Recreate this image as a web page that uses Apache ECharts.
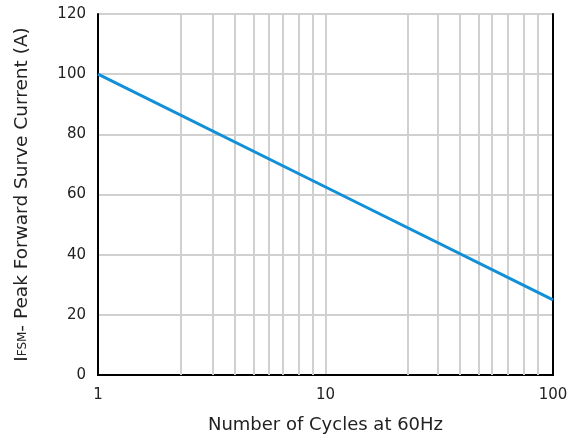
<!DOCTYPE html>
<html>
<head>
<meta charset="utf-8">
<script src="https://cdn.jsdelivr.net/npm/echarts@6/dist/echarts.min.js"></script>
<style>
  html, body { margin: 0; padding: 0; background: #fff; }
  #chart { width: 571px; height: 439px; }
</style>
</head>
<body>
<div id="chart"></div>
<script>
// curve points (cycles, amps)
const cycles = [1, 10, 100];
const current = [100, 62.5, 25];
// the minor vertical grid lines, as drawn in the original
const minorGrid = [2.3, 3.2, 4.0, 4.85, 5.65, 6.5, 7.6, 8.8, 23, 31, 39, 47, 54, 63, 74, 86];
const yTicks = [0, 20, 40, 60, 80, 100, 120];

const chart = echarts.init(document.getElementById('chart'));
const font = '"DejaVu Sans", sans-serif';
const gridGray = '#d0d0d0';

// plain frame axes for the top and right edges
const frameX = {
  type: 'log', logBase: 10, min: 1, max: 100, position: 'top',
  axisLine: { show: true, lineStyle: { color: '#000', width: 2 } },
  axisTick: { show: false }, axisLabel: { show: false }, splitLine: { show: false }
};
const frameY = {
  type: 'value', min: 0, max: 120, position: 'right',
  axisLine: { show: true, lineStyle: { color: '#000', width: 2 } },
  axisTick: { show: false }, axisLabel: { show: false }, splitLine: { show: false }
};

const option = {
  animation: false,
  textStyle: { fontFamily: font },
  grid: { left: 98, right: 18, top: 14, bottom: 63 },
  xAxis: [{
    type: 'log',
    logBase: 10,
    min: 1,
    max: 100,
    name: 'Number of Cycles at 60Hz',
    nameLocation: 'middle',
    nameGap: 41,
    nameTextStyle: { fontSize: 18, color: '#222', fontFamily: font },
    axisLine: { show: true, lineStyle: { color: '#000', width: 2 } },
    axisTick: { show: false },
    axisLabel: { fontSize: 15, color: '#222', margin: 13, fontFamily: font },
    splitLine: { show: true, lineStyle: { color: gridGray, width: 2 } }
  }, frameX],
  yAxis: [{
    type: 'value',
    min: yTicks[0],
    max: yTicks[yTicks.length - 1],
    interval: 20,
    name: '{b|I}{s|FSM}{b|- Peak Forward Surve Current (A)}',
    nameLocation: 'middle',
    nameGap: 66,
    nameTextStyle: {
      color: '#222',
      rich: {
        b: { fontSize: 18.5, color: '#222', fontFamily: font },
        s: { fontSize: 12, color: '#222', fontFamily: font }
      }
    },
    axisLine: { show: true, lineStyle: { color: '#000', width: 2 } },
    axisTick: { show: false },
    axisLabel: { fontSize: 15, color: '#222', margin: 12, fontFamily: font },
    splitLine: { show: true, lineStyle: { color: gridGray, width: 2 } }
  }, frameY],
  series: [
    {
      type: 'line',
      data: [],
      silent: true,
      markLine: {
        silent: true,
        symbol: 'none',
        label: { show: false },
        lineStyle: { color: gridGray, width: 2, type: 'solid' },
        data: minorGrid.map(v => ({ xAxis: v }))
      }
    },
    {
      type: 'line',
      data: cycles.map((c, i) => [c, current[i]]),
      showSymbol: false,
      lineStyle: { color: '#1190d8', width: 3 },
      z: 5
    }
  ]
};

chart.setOption(option);
</script>
</body>
</html>
